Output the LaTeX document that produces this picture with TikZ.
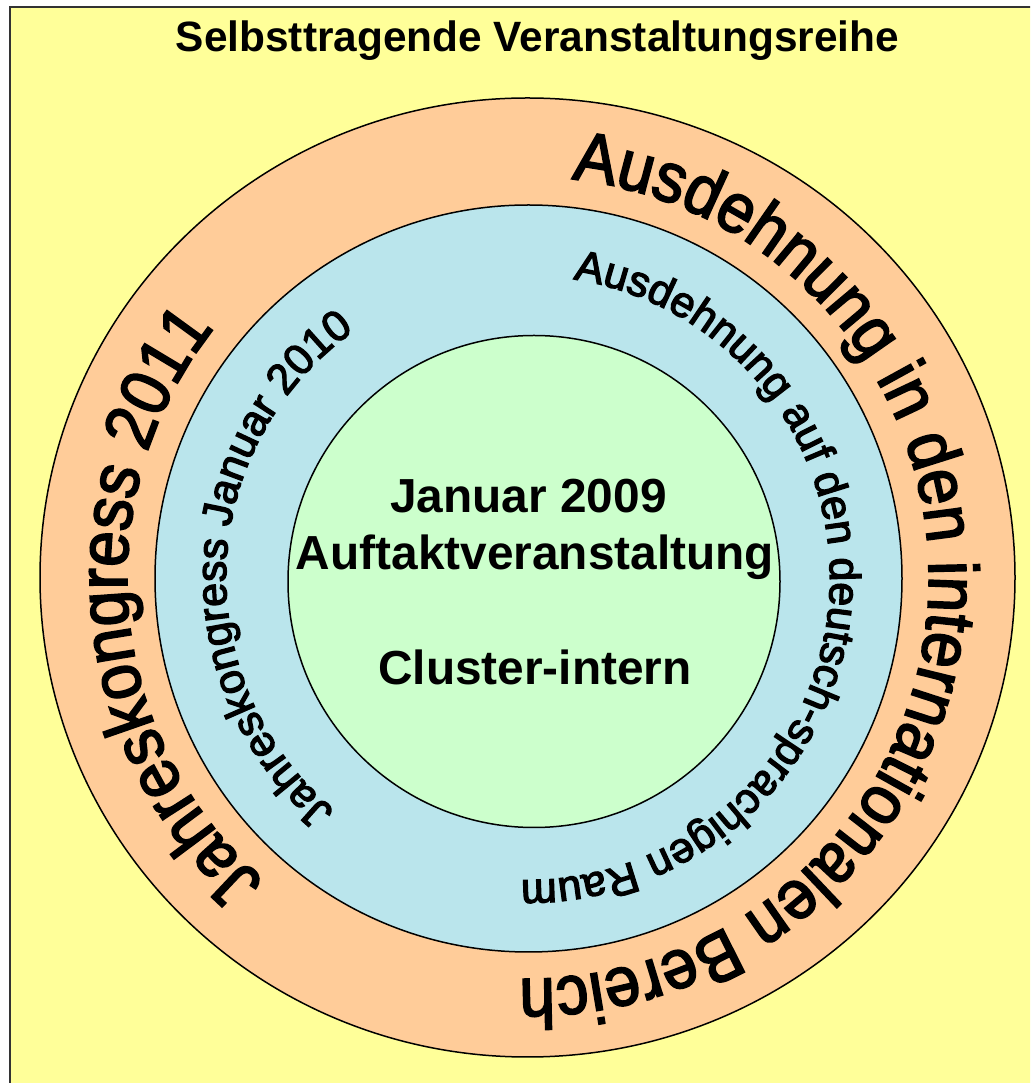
\documentclass[tikz,border=0pt]{standalone}
\usepackage{fontspec}
\setmainfont{Liberation Sans}
\newfontfamily\ringbig[FakeStretch=0.915,FakeBold=2.6]{Liberation Sans}
\newfontfamily\ringsmall[FakeBold=3]{Liberation Sans}
\usetikzlibrary{decorations.text}
\definecolor{bgyellow}{HTML}{FFFF99}
\definecolor{ringorange}{HTML}{FFCC99}
\definecolor{ringblue}{HTML}{BAE5EC}
\definecolor{coregreen}{HTML}{CCFFCC}

\begin{document}
\begin{tikzpicture}[x=0.5pt,y=0.5pt,
    ring/.style={draw=black,line width=0.75pt},
    bigtext/.style={font=\bfseries\fontsize{23.9}{28}\selectfont,anchor=base},
    arctext/.style={decorate,decoration={text along path,text align=center,text={#1}}}]
    \useasboundingbox (0,0) rectangle (1030,1083);
    \fill[white] (0,0) rectangle (1030,1083);
    \begin{scope}
    \clip (0,0) rectangle (1030,1083);
    \draw[fill=bgyellow,draw=black!80,line width=1pt] (10,-10) rectangle (1040,1076);
    \end{scope}

    \node[font=\bfseries\fontsize{21.2}{25}\selectfont,anchor=base] (title) at (537.5,1031.5) {Selbsttragende Veranstaltungsreihe};

    % the three rings
    \coordinate (mid) at (528,505);
    \draw[ring,fill=ringorange] (527.5,505.5) ellipse [x radius=487.5,y radius=479.5];
    \draw[ring,fill=ringblue] (528.5,504.5) circle [radius=373.5];
    \draw[ring,fill=coregreen] (534,501.5) circle [radius=246];

    % texts round the rings
    \path[arctext={|\ringbig\fontsize{35}{40}\selectfont|Ausdehnung in den internationalen Bereich}]
        (mid) ++(96.25:401) arc[start angle=96.25,end angle=-103.75,radius=401];
    \path[arctext={|\ringbig\fontsize{35}{40}\selectfont|Jahreskongress 2011}]
        (mid) ++(235.2:401) arc[start angle=235.2,end angle=135.2,radius=401];
    \path[arctext={|\ringsmall\fontsize{21.5}{26}\selectfont|Ausdehnung auf den deutsch-sprachigen Raum}]
        (mid) ++(95:302) arc[start angle=95,end angle=-105,radius=302];
    \path[arctext={|\ringsmall\fontsize{21.5}{26}\selectfont|Jahreskongress Januar 2010}]
        (mid) ++(237.65:302) arc[start angle=237.65,end angle=117.65,radius=302];

    \node[bigtext] (jan) at (528.5,570) {Januar 2009};
    \node[bigtext] (auft) at (535,513) {Auftaktveranstaltung};
    \node[bigtext] (clus) at (535,398) {Cluster-intern};
\end{tikzpicture}
\end{document}
